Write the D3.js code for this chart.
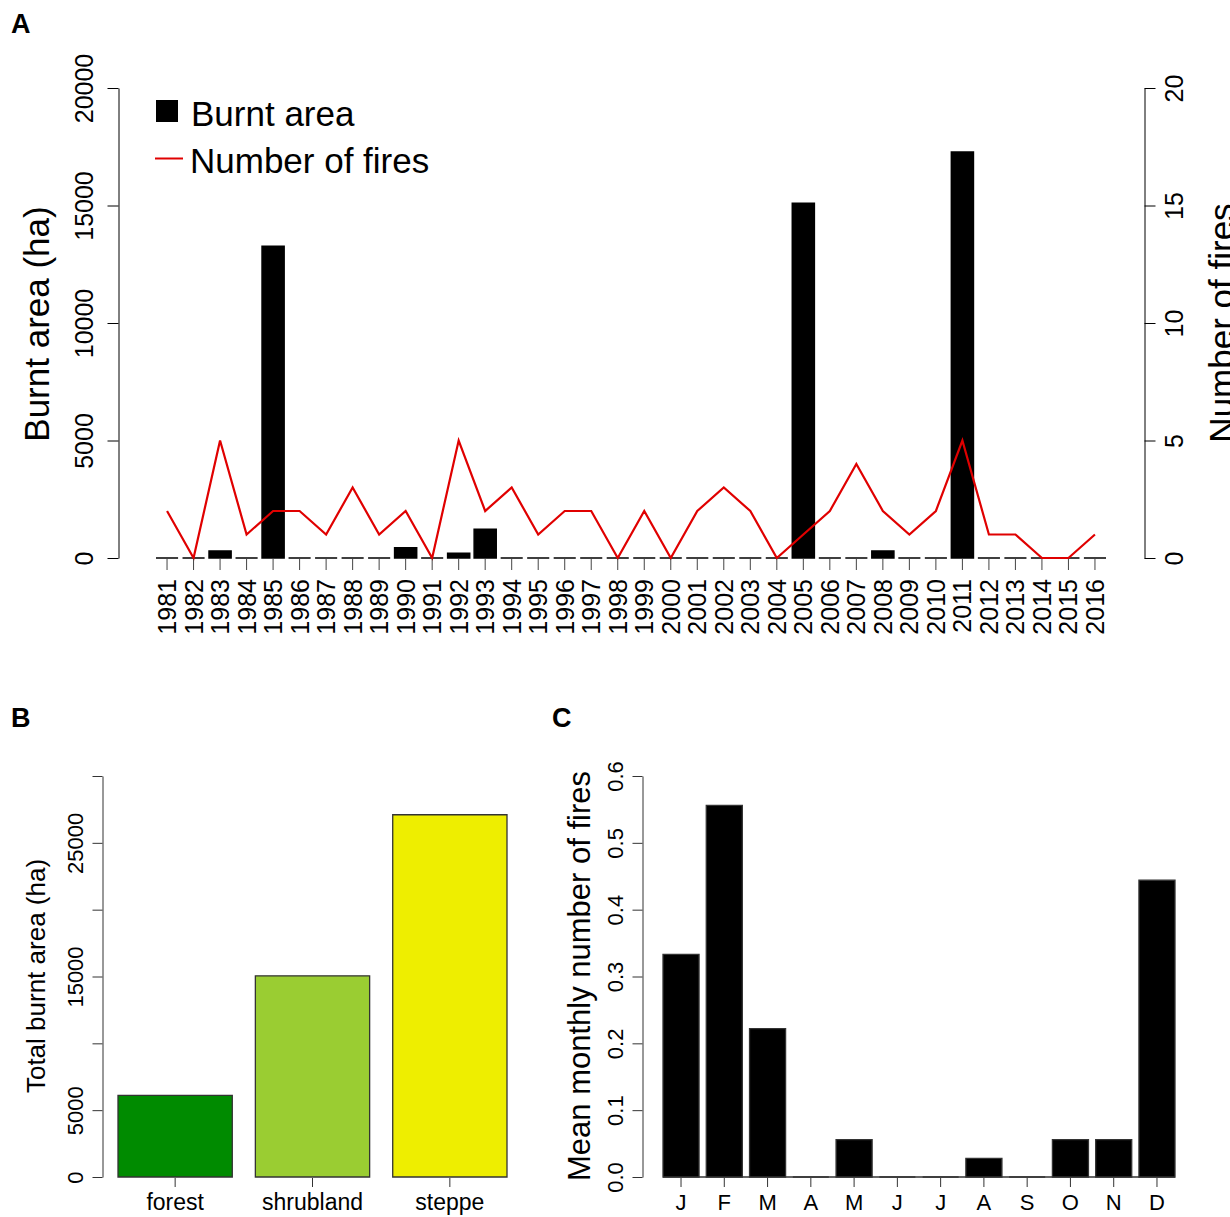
<!DOCTYPE html>
<html>
<head>
<meta charset="utf-8">
<script src="https://cdn.jsdelivr.net/npm/d3@7"></script>
<style>
  body { margin: 0; background: #fff; }
  svg { display: block; font-family: "Liberation Sans", Arial, sans-serif; }
</style>
</head>
<body>
<div id="main"></div>
<script>
// panel A: yearly burnt area (ha) and number of fires
const years = [1981, 1982, 1983, 1984, 1985, 1986, 1987, 1988, 1989, 1990,
               1991, 1992, 1993, 1994, 1995, 1996, 1997, 1998, 1999, 2000,
               2001, 2002, 2003, 2004, 2005, 2006, 2007, 2008, 2009, 2010,
               2011, 2012, 2013, 2014, 2015, 2016]
const burntArea = [0, 0, 300, 0, 13270, 0, 0, 0, 0, 440,
                   0, 200, 1220, 0, 0, 0, 0, 0, 0, 0,
                   0, 0, 0, 0, 15100, 0, 0, 300, 0, 0,
                   17280, 0, 0, 0, 0, 0]
const fires = [2, 0, 5, 1, 2, 2, 1, 3, 1, 2,
               0, 5, 2, 3, 1, 2, 2, 0, 2, 0,
               2, 3, 2, 0, 1, 2, 4, 2, 1, 2,
               5, 1, 1, 0, 0, 1]
const areaTicks = [0, 5000, 10000, 15000, 20000]
const fireTicks = [0, 5, 10, 15, 20]

// panel B: total burnt area by vegetation type
const vegTypes = ['forest', 'shrubland', 'steppe']
const vegArea = [6100, 15050, 27100]
const vegColors = ['#008B00', '#9ACD32', '#EEEE00']
const vegTicks = [0, 5000, 10000, 15000, 20000, 25000, 30000]
const vegTickLabels = [0, 5000, 15000, 25000]

// panel C: mean monthly number of fires
const months = ['J', 'F', 'M', 'A', 'M', 'J', 'J', 'A', 'S', 'O', 'N', 'D']
const monthlyFires = [0.333, 0.556, 0.222, 0, 0.056, 0, 0, 0.028, 0, 0.056, 0.056, 0.444]
const monthTicks = [0, 0.1, 0.2, 0.3, 0.4, 0.5, 0.6]

const svg = d3.select('#main').append('svg')
  .attr('width', 1230)
  .attr('height', 1217)

// bars as paths so zero-height bars still draw their border line
const barPath = (x0, w, y0, y1) => `M${x0},${y0}H${x0 + w}V${y1}H${x0}Z`

function panelLetter(txt, x, y) {
  svg.append('text').attr('x', x).attr('y', y)
    .attr('font-size', 27).attr('font-weight', 'bold').text(txt)
}

// rotate the y tick labels so they run along the axis like R does
function rotateYLabels(g, offset, size) {
  g.selectAll('.tick text')
    .attr('transform', 'rotate(-90)')
    .attr('x', 0).attr('y', offset).attr('dy', null)
    .attr('text-anchor', 'middle')
    .attr('font-size', size)
    .attr('fill', '#000')
}

// ---------------- A ----------------
panelLetter('A', 11, 33)

const xA = d3.scaleBand().domain(years).range([156, 1106]).paddingInner(0.1667).paddingOuter(0)
const yA = d3.scaleLinear().domain([0, 20000]).range([558, 88])
const yF = d3.scaleLinear().domain([0, 20]).range([558, 88])
const bwA = xA.bandwidth()

svg.append('g').selectAll('path')
  .data(burntArea)
  .enter()
  .append('path')
    .attr('d', (d, i) => barPath(xA(years[i]), bwA, yA(0), yA(d)))
    .attr('fill', '#000')
    .attr('stroke', '#000')
    .attr('stroke-width', 1.5)

const fireLine = d3.line()
  .x((d, i) => xA(years[i]) + bwA / 2)
  .y((d) => yF(d))

svg.append('path')
  .attr('d', fireLine(fires))
  .attr('fill', 'none')
  .attr('stroke', '#e00000')
  .attr('stroke-width', 2.2)

const axA = svg.append('g')
  .attr('transform', 'translate(118.5,0)')
  .call(d3.axisLeft(yA).tickValues(areaTicks).tickSize(11).tickSizeOuter(0).tickFormat(d3.format('d')))
rotateYLabels(axA, -26, 25)

const axF = svg.append('g')
  .attr('transform', 'translate(1144.5,0)')
  .call(d3.axisRight(yF).tickValues(fireTicks).tickSize(11).tickSizeOuter(0))
rotateYLabels(axF, 38, 25)

const axYears = svg.append('g')
  .attr('transform', 'translate(0,559)')
  .call(d3.axisBottom(xA).tickSize(11))
axYears.select('.domain').remove()
axYears.selectAll('.tick line').attr('stroke', '#444')
axYears.selectAll('.tick text')
  .attr('transform', 'rotate(-90)')
  .attr('x', -20).attr('y', 9).attr('dy', null)
  .attr('text-anchor', 'end')
  .attr('font-size', 25)
  .attr('fill', '#000')

svg.append('text')
  .attr('transform', 'translate(49,324) rotate(-90)')
  .attr('text-anchor', 'middle')
  .attr('font-size', 35)
  .text('Burnt area (ha)')

// cut off by the right edge, as in the original figure
svg.append('text')
  .attr('transform', 'translate(1234,323) rotate(-90)')
  .attr('text-anchor', 'middle')
  .attr('font-size', 35)
  .text('Number of fires')

// legend
svg.append('rect').attr('x', 156).attr('y', 100).attr('width', 22).attr('height', 22).attr('fill', '#000')
svg.append('line').attr('x1', 155).attr('x2', 183).attr('y1', 158.5).attr('y2', 158.5)
  .attr('stroke', '#e00000').attr('stroke-width', 2)
svg.append('text').attr('x', 191).attr('y', 126).attr('font-size', 35).text('Burnt area')
svg.append('text').attr('x', 190).attr('y', 173).attr('font-size', 35).text('Number of fires')

// ---------------- B ----------------
panelLetter('B', 11, 727)

const xB = d3.scaleBand().domain(vegTypes).range([118, 507]).paddingInner(0.168).paddingOuter(0)
const yB = d3.scaleLinear().domain([0, 30000]).range([1177, 776])

svg.append('g').selectAll('path')
  .data(vegArea)
  .enter()
  .append('path')
    .attr('d', (d, i) => barPath(xB(vegTypes[i]), xB.bandwidth(), yB(0), yB(d)))
    .attr('fill', (d, i) => vegColors[i])
    .attr('stroke', '#333')
    .attr('stroke-width', 1.3)

const axB = svg.append('g')
  .attr('transform', 'translate(102.5,0)')
  .call(d3.axisLeft(yB).tickValues(vegTicks).tickSize(10).tickSizeOuter(0)
    .tickFormat((d) => vegTickLabels.includes(d) ? d : ''))
axB.selectAll('path, line').attr('stroke', '#333')
rotateYLabels(axB, -20, 22)

const axVeg = svg.append('g')
  .attr('transform', 'translate(0,1178)')
  .call(d3.axisBottom(xB).tickSize(9))
axVeg.select('.domain').remove()
axVeg.selectAll('.tick line').attr('stroke', '#333')
axVeg.selectAll('.tick text')
  .attr('y', 32).attr('dy', null)
  .attr('font-size', 23)
  .attr('fill', '#000')

svg.append('text')
  .attr('transform', 'translate(45,976) rotate(-90)')
  .attr('text-anchor', 'middle')
  .attr('font-size', 26)
  .text('Total burnt area (ha)')

// ---------------- C ----------------
panelLetter('C', 552, 727)

const xC = d3.scaleBand().domain(d3.range(months.length)).range([663, 1175]).paddingInner(0.1667).paddingOuter(0)
const yC = d3.scaleLinear().domain([0, 0.6]).range([1177, 776])

svg.append('line')
  .attr('x1', 663).attr('x2', 1175)
  .attr('y1', yC(0)).attr('y2', yC(0))
  .attr('stroke', '#333').attr('stroke-width', 1.3)

svg.append('g').selectAll('path')
  .data(monthlyFires)
  .enter()
  .append('path')
    .attr('d', (d, i) => barPath(xC(i), xC.bandwidth(), yC(0), yC(d)))
    .attr('fill', '#000')
    .attr('stroke', '#333')
    .attr('stroke-width', 1.3)

const axC = svg.append('g')
  .attr('transform', 'translate(642.5,0)')
  .call(d3.axisLeft(yC).tickValues(monthTicks).tickSize(10).tickSizeOuter(0).tickFormat(d3.format('.1f')))
axC.selectAll('path, line').attr('stroke', '#333')
rotateYLabels(axC, -20, 22)

const axMonths = svg.append('g')
  .attr('transform', 'translate(0,1178)')
  .call(d3.axisBottom(xC).tickSize(9).tickFormat((i) => months[i]))
axMonths.select('.domain').remove()
axMonths.selectAll('.tick line').attr('stroke', '#333')
axMonths.selectAll('.tick text')
  .attr('y', 32).attr('dy', null)
  .attr('font-size', 22)
  .attr('fill', '#000')

svg.append('text')
  .attr('transform', 'translate(590,976) rotate(-90)')
  .attr('text-anchor', 'middle')
  .attr('font-size', 31)
  .text('Mean monthly number of fires')
</script>
</body>
</html>
